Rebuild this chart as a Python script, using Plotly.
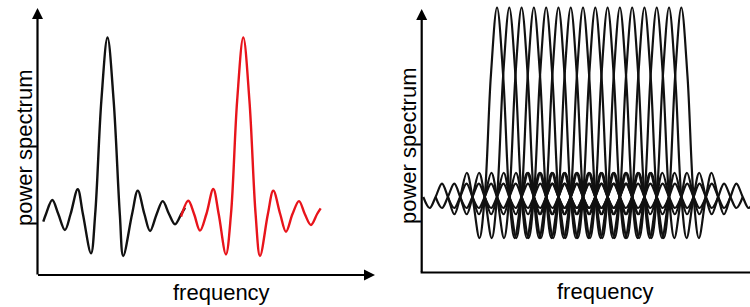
import plotly.graph_objects as go

# ---------------- data ----------------
# Left panel: frequency in sub-carrier units, power-spectrum level (baseline = 0, peak ~ 1)
black_x = [-5.22, -5.0, -4.49, -4.0, -3.46, -3.0, -2.42, -2.0, -1.34, -1.0, -0.5, 0.0,
           0.5, 1.0, 1.28, 2.0, 2.46, 3.0, 3.46, 4.0, 4.49, 5.0, 5.49, 6.0, 6.3]
black_y = [-0.043, 0.0, 0.079, 0.0, -0.090, 0.0, 0.140, 0.0, -0.222, 0.0, 0.64, 0.997,
           0.64, 0.0, -0.237, 0.0, 0.132, 0.0, -0.096, 0.0, 0.073, 0.0, -0.058, 0.0, 0.034]

red_x = [5.98, 6.57, 7.04, 7.52, 8.04, 8.60, 9.04, 9.63, 10.04, 10.54, 11.04,
         11.54, 12.04, 12.40, 13.04, 13.48, 14.04, 14.51, 15.04, 15.57, 16.04, 16.54, 17.04, 17.33]
red_y = [-0.015, 0.075, 0.0, -0.094, 0.0, 0.141, 0.0, -0.228, 0.0, 0.64, 0.998,
         0.64, 0.0, -0.237, 0.0, 0.132, 0.0, -0.100, 0.0, 0.073, 0.0, -0.062, 0.0, 0.032]

# Right panel: 16 overlapping sub-carriers sharing one spectral profile
carrier_centers = [0, 1, 2, 3, 4, 5, 6, 7, 8, 9, 10, 11, 12, 13, 14, 15]
profile_offset = [-6, -5.48, -5, -4.48, -4, -3.47, -3, -2.46, -2, -1.43, -1, -0.5, 0,
                  0.5, 1, 1.43, 2, 2.46, 3, 3.47, 4, 4.48, 5, 5.48, 6]
profile_level = [0, -0.058, 0, 0.071, 0, -0.091, 0, 0.128, 0, -0.217, 0, 0.64, 1,
                 0.64, 0, -0.217, 0, 0.128, 0, -0.091, 0, 0.071, 0, -0.058, 0]

y_label = "power spectrum"
x_label = "frequency"

# ---------------- layout helpers ----------------
W, H = 750, 307
def px(x):
    return x / W
def py(y):
    return (H - y) / H

fig = go.Figure()

fig.add_trace(go.Scatter(x=black_x, y=black_y, mode="lines",
                         line=dict(color="#111111", width=2.4, shape="spline", smoothing=1.0),
                         xaxis="x", yaxis="y", showlegend=False, hoverinfo="skip"))
fig.add_trace(go.Scatter(x=red_x, y=red_y, mode="lines",
                         line=dict(color="#e8141b", width=2.4, shape="spline", smoothing=1.0),
                         xaxis="x", yaxis="y", showlegend=False, hoverinfo="skip"))

for c in carrier_centers:
    fig.add_trace(go.Scatter(x=[c + o for o in profile_offset], y=profile_level, mode="lines",
                             line=dict(color="#111111", width=2.2, shape="spline", smoothing=1.0),
                             xaxis="x2", yaxis="y2", showlegend=False, hoverinfo="skip"))

hidden = dict(showgrid=False, zeroline=False, showticklabels=False, ticks="",
              showline=False, fixedrange=True)

fig.update_layout(
    width=W, height=H,
    margin=dict(l=0, r=0, t=0, b=0),
    paper_bgcolor="white", plot_bgcolor="rgba(0,0,0,0)",
    xaxis=dict(domain=[px(37.5), px(374)], range=[-5.691, 21.667], **hidden),
    yaxis=dict(domain=[py(275), py(5)], range=[-0.3446, 1.1808], **hidden),
    xaxis2=dict(domain=[px(421.7), 1.0], range=[-6.13, 20.59], anchor="y2", **hidden),
    yaxis2=dict(domain=[py(272.5), py(3)], range=[-0.3984, 1.0237], anchor="x2", **hidden),
)

font = dict(family="Liberation Sans, Arial, sans-serif", size=22, color="black")
ann = []
# axis arrows
ann.append(dict(xref="paper", yref="paper", x=px(37.5), y=py(8), ax=0, ay=268,
                text="", showarrow=True, arrowhead=2, arrowsize=1, arrowwidth=2.2, arrowcolor="black"))
ann.append(dict(xref="paper", yref="paper", x=px(375), y=py(275), ax=-338.5, ay=0,
                text="", showarrow=True, arrowhead=2, arrowsize=1, arrowwidth=2.2, arrowcolor="black"))
ann.append(dict(xref="paper", yref="paper", x=px(421.7), y=py(9), ax=0, ay=264.5,
                text="", showarrow=True, arrowhead=2, arrowsize=1, arrowwidth=2.2, arrowcolor="black"))
# labels
ann.append(dict(xref="paper", yref="paper", x=px(24), y=py(148), text=y_label, textangle=-90,
                showarrow=False, font=font, xanchor="center", yanchor="middle"))
ann.append(dict(xref="paper", yref="paper", x=px(221), y=py(292), text=x_label,
                showarrow=False, font=font, xanchor="center", yanchor="middle"))
ann.append(dict(xref="paper", yref="paper", x=px(408), y=py(146), text=y_label, textangle=-90,
                showarrow=False, font=font, xanchor="center", yanchor="middle"))
ann.append(dict(xref="paper", yref="paper", x=px(605), y=py(291), text=x_label,
                showarrow=False, font=font, xanchor="center", yanchor="middle"))
fig.update_layout(annotations=ann)

fig.add_shape(type="line", xref="paper", yref="paper", x0=px(420.6), x1=1.0,
              y0=py(272.5), y1=py(272.5), line=dict(color="black", width=2.2))

fig.write_html("out.html",
               config={"displayModeBar": False, "staticPlot": True},
               post_script="document.body.style.margin='0';document.body.style.padding='0';"
                           "document.body.style.overflow='hidden';")
